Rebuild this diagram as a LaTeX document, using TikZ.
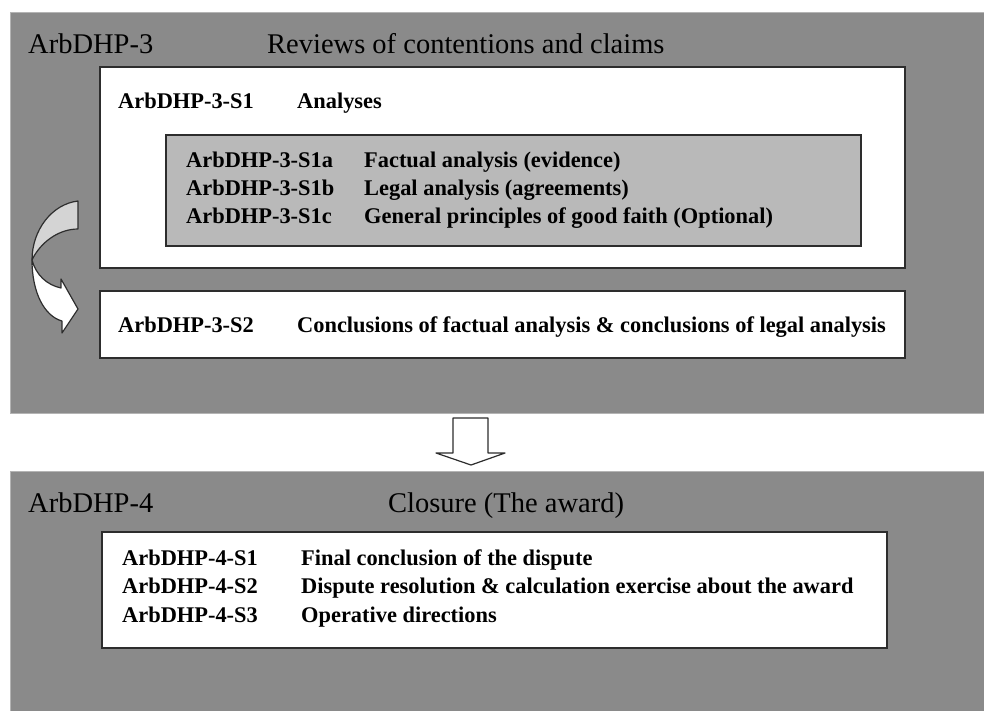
\documentclass[tikz,border=0pt]{standalone}
\usepackage{fontspec}
\setmainfont{Liberation Serif}
\definecolor{panelgray}{RGB}{138,138,138}
\definecolor{paneledge}{RGB}{180,180,180}
\definecolor{subgray}{RGB}{185,185,185}
\definecolor{crescent}{RGB}{212,212,212}
\definecolor{frame}{RGB}{45,45,45}
\begin{document}
\begin{tikzpicture}[x=1pt,y=-1pt,
  panel/.style={fill=panelgray,draw=paneledge,line width=1pt},
  whitebox/.style={fill=white,draw=frame,line width=1.8pt},
  graybox/.style={fill=subgray,draw=frame,line width=1.8pt},
  title/.style={anchor=base west,inner sep=0pt,font=\fontsize{28.5}{30}\selectfont},
  code/.style={anchor=base west,inner sep=0pt,font=\fontsize{22.4}{24}\selectfont\bfseries},
  blockarrow/.style={draw=frame,line width=1.2pt,line join=round}]
\useasboundingbox (0,0) rectangle (984,710);
\fill[white] (0,0) rectangle (984,710);

% stage 3 panel
\draw[panel] (10,12) rectangle (985,413);
\node[title] (t3) at (28,53) {ArbDHP-3};
\node[title] (t3d) at (267,53) {Reviews of contentions and claims};

\draw[whitebox] (100,67) rectangle (905,268);
\node[code] (s1) at (118,108) {ArbDHP-3-S1};
\node[code] (s1d) at (297,108) {Analyses};

\draw[graybox] (166,135) rectangle (861,246);
\node[code] (s1a) at (186,167) {ArbDHP-3-S1a};
\node[code] (s1ad) at (364,167) {Factual analysis (evidence)};
\node[code] (s1b) at (186,195) {ArbDHP-3-S1b};
\node[code] (s1bd) at (364,195) {Legal analysis (agreements)};
\node[code] (s1c) at (186,223) {ArbDHP-3-S1c};
\node[code] (s1cd) at (364,223) {General principles of good faith (Optional)};

\draw[whitebox] (100,291) rectangle (905,358);
\node[code] (s2) at (118,332) {ArbDHP-3-S2};
\node[code] (s2d) at (297,332) {Conclusions of factual analysis \& conclusions of legal analysis};

% curved arrow from the analyses down to the conclusions
\draw[blockarrow,fill=crescent]
  (78,201) .. controls (52,204) and (32,230) .. (32,260)
  .. controls (40,243) and (58,229) .. (78,229) -- cycle;
\draw[blockarrow,fill=white]
  (32,260) .. controls (32,292) and (44,316) .. (62,321)
  -- (62,333) -- (78,309) -- (61,279) -- (61,288)
  .. controls (47,285) and (36,275) .. (32,260) -- cycle;

% down arrow between the stages
\draw[blockarrow,fill=white]
  (453,418) -- (488,418) -- (488,453) -- (505,453) -- (471,465)
  -- (436,453) -- (453,453) -- cycle;

% stage 4 panel
\draw[panel] (10,471) rectangle (985,711);
\node[title] (t4) at (28,512) {ArbDHP-4};
\node[title] (t4d) at (388,512) {Closure (The award)};

\draw[whitebox] (102,532) rectangle (887,648);
\node[code] (f1) at (122,565) {ArbDHP-4-S1};
\node[code] (f1d) at (301,565) {Final conclusion of the dispute};
\node[code] (f2) at (122,593) {ArbDHP-4-S2};
\node[code] (f2d) at (301,593) {Dispute resolution \& calculation exercise about the award};
\node[code] (f3) at (122,622) {ArbDHP-4-S3};
\node[code] (f3d) at (301,622) {Operative directions};
\end{tikzpicture}
\end{document}
